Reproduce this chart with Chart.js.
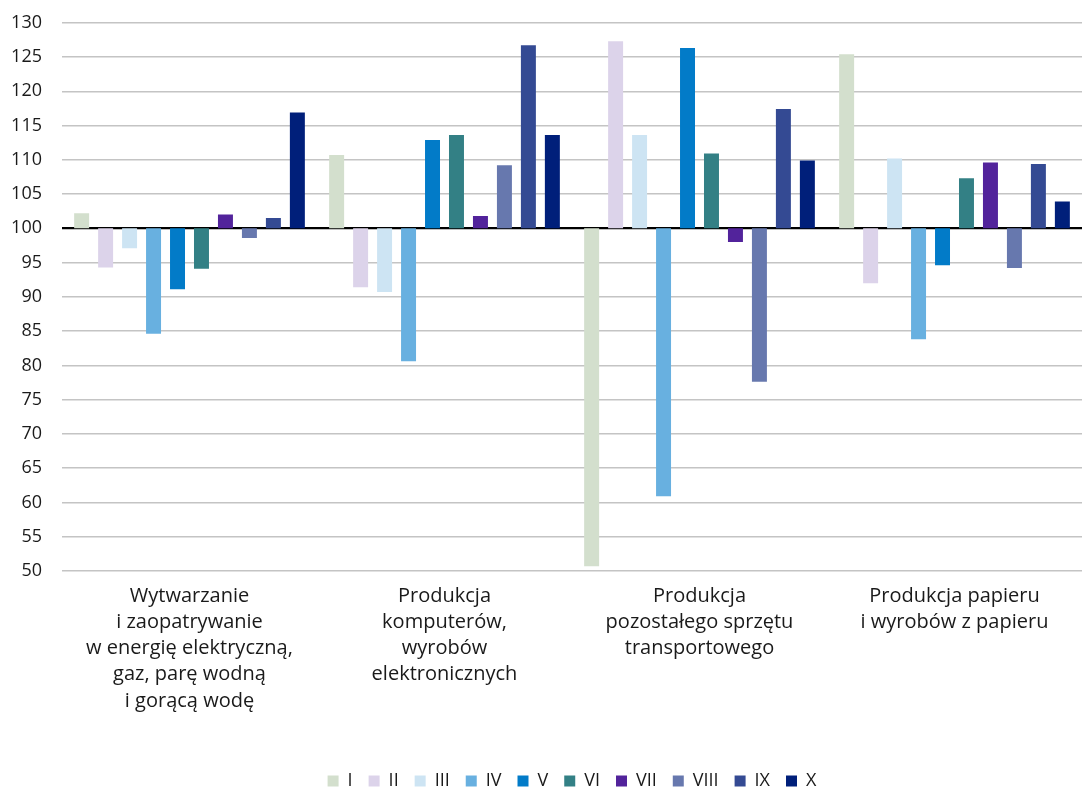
<!DOCTYPE html>
<html>
<head>
<meta charset="utf-8">
<script src="https://cdn.jsdelivr.net/npm/chart.js@4/dist/chart.umd.min.js"></script>
<style>
  html, body { margin: 0; padding: 0; background: #fff; overflow: hidden; }
  #wrap { position: relative; width: 1082px; height: 800px; }
</style>
</head>
<body>
<div id="wrap"><canvas id="chart"></canvas></div>
<script>
// categories (multi-line labels)
var categories = [
  ['Wytwarzanie', 'i zaopatrywanie', 'w energię elektryczną,', 'gaz, parę wodną', 'i gorącą wodę'],
  ['Produkcja', 'komputerów,', 'wyrobów', 'elektronicznych'],
  ['Produkcja', 'pozostałego sprzętu', 'transportowego'],
  ['Produkcja papieru', 'i wyrobów z papieru']
];

var months = ['I', 'II', 'III', 'IV', 'V', 'VI', 'VII', 'VIII', 'IX', 'X'];

// one array per month, values for the four categories
var vI    = [102.2, 110.7,  50.7, 125.4];
var vII   = [ 94.3,  91.4, 127.3,  92.0];
var vIII  = [ 97.1,  90.7, 113.6, 110.2];
var vIV   = [ 84.6,  80.6,  60.9,  83.8];
var vV    = [ 91.1, 112.9, 126.3,  94.6];
var vVI   = [ 94.1, 113.6, 110.9, 107.3];
var vVII  = [102.0, 101.8,  98.0, 109.6];
var vVIII = [ 98.6, 109.2,  77.6,  94.2];
var vIX   = [101.5, 126.7, 117.4, 109.4];
var vX    = [116.9, 113.6, 109.9, 103.9];

var baseValue = 100;
var yTicks = { min: 50, max: 130, step: 5 };

var series = [vI, vII, vIII, vIV, vV, vVI, vVII, vVIII, vIX, vX];
var colors = ['#d3dfcd', '#dcd3ea', '#cde4f3', '#68b0e0', '#027bc8',
              '#338085', '#52239b', '#6778ae', '#344a93', '#001f7a'];

var textColor = '#1a1a1a';
var fontFamily = '"Open Sans", "Noto Sans", sans-serif';

var datasets = series.map(function (vals, i) {
  return {
    label: months[i],
    data: vals.map(function (v) { return [baseValue, v]; }),
    backgroundColor: colors[i],
    borderWidth: 0,
    borderSkipped: false,
    categoryPercentage: 0.94,
    barPercentage: 0.625
  };
});

var ctx = document.getElementById('chart');
new Chart(ctx, {
  type: 'bar',
  data: { labels: categories, datasets: datasets },
  options: {
    responsive: true,
    maintainAspectRatio: false,
    animation: false,
    layout: { padding: { top: 0, right: 0, bottom: 0, left: 0 } },
    plugins: {
      tooltip: { enabled: false },
      legend: {
        position: 'bottom',
        fullSize: false,
        labels: {
          boxWidth: 11,
          boxHeight: 11,
          padding: 16,
          color: textColor,
          font: { family: fontFamily, size: 18 }
        }
      }
    },
    scales: {
      x: {
        grid: { display: false, drawTicks: false },
        border: { display: false },
        ticks: {
          color: textColor,
          padding: 12,
          maxRotation: 0,
          autoSkip: false,
          font: { family: fontFamily, size: 20, lineHeight: 1.31 }
        },
        afterFit: function (scale) { scale.height = 185; }
      },
      y: {
        min: yTicks.min,
        max: yTicks.max,
        border: { display: false },
        grid: {
          drawTicks: false,
          color: function (c) { return c.tick && c.tick.value === baseValue ? '#000' : '#c4c4c4'; },
          lineWidth: function (c) { return c.tick && c.tick.value === baseValue ? 2.2 : 1.4; }
        },
        ticks: {
          stepSize: yTicks.step,
          color: textColor,
          padding: 20,
          font: { family: fontFamily, size: 18, lineHeight: 0.3 }
        },
        afterFit: function (scale) { scale.width = 62; }
      }
    }
  }
});
</script>
</body>
</html>
